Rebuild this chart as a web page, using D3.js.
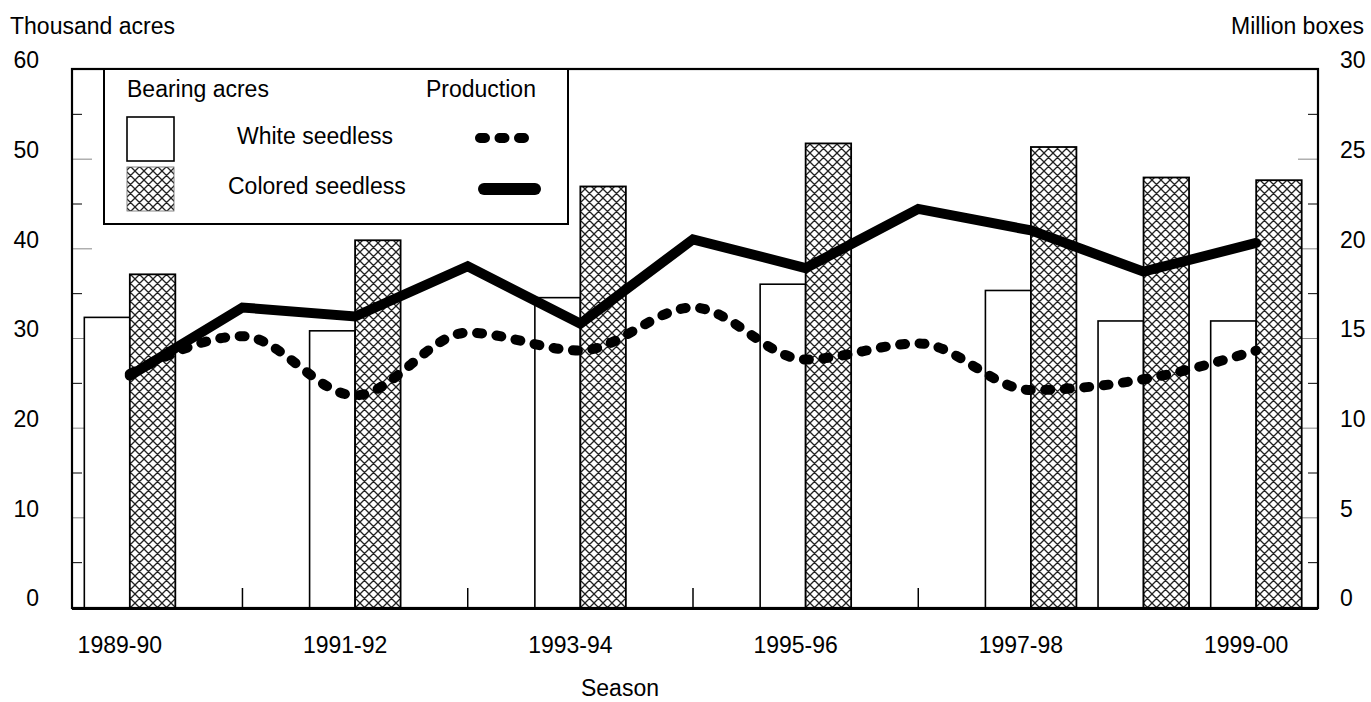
<!DOCTYPE html>
<html>
<head>
<meta charset="utf-8">
<script src="https://cdn.jsdelivr.net/npm/d3@7"></script>
<style>
  body { margin: 0; background: #fff; }
  text { font-family: "Liberation Sans", Arial, sans-serif; fill: #000; }
</style>
</head>
<body>
<div id="chart"></div>
<script>
// seasons on the x axis, labels shown every other season
const seasons = ["1989-90", "1990-91", "1991-92", "1992-93", "1993-94", "1994-95",
  "1995-96", "1996-97", "1997-98", "1998-99", "1999-00"];
const seasonLabels = ["1989-90", "1991-92", "1993-94", "1995-96", "1997-98", "1999-00"];

// bearing acres, thousand acres (no bars in some seasons)
const whiteAcres   = [32.3, null, 30.8, null, 34.5, null, 36.0, null, 35.3, 31.9, 31.9];
const coloredAcres = [37.1, null, 40.9, null, 46.9, null, 51.7, null, 51.3, 47.9, 47.6];

// production, million boxes
const whiteProd   = [13.0, 15.1, 11.8, 15.3, 14.3, 16.7, 13.8, 14.7, 12.1, 12.7, 14.3];
const coloredProd = [12.9, 16.7, 16.2, 19.0, 15.8, 20.5, 18.9, 22.2, 21.0, 18.7, 20.3];

const leftTicks = [0, 10, 20, 30, 40, 50, 60];
const rightTicks = [0, 5, 10, 15, 20, 25, 30];

const width = 1371, height = 702;
const plot = { left: 72, right: 1318, top: 69, bottom: 608 };
const fontSize = 23;

const svg = d3.select("#chart")
  .append("svg")
    .attr("width", width)
    .attr("height", height);

// crosshatch fill
const defs = svg.append("defs");
const pat = defs.append("pattern")
    .attr("id", "hatch")
    .attr("patternUnits", "userSpaceOnUse")
    .attr("width", 9)
    .attr("height", 9);
pat.append("rect").attr("width", 9).attr("height", 9).attr("fill", "#fff");
pat.append("path")
    .attr("d", "M0,0L9,9M9,0L0,9M-1,8L1,10M8,-1L10,1M-1,1L1,-1M8,10L10,8")
    .attr("stroke", "#222")
    .attr("stroke-width", 1.3);

// scales
const x = d3.scaleBand()
  .domain(seasons)
  .range([73.5, 1312.5]);
const cx = s => x(s) + x.bandwidth() / 2;

const yL = d3.scaleLinear().domain([0, 60]).range([607, plot.top]);
const yR = d3.scaleLinear().domain([0, 30]).range([607, plot.top]);

// inner ticks, left axis
const left = svg.append("g").attr("transform", `translate(${plot.left},0)`);
left.append("g")
  .call(d3.axisRight(yL).tickValues(d3.range(5, 60, 10)).tickSize(10).tickFormat(""))
  .call(g => g.select(".domain").remove())
  .selectAll("line").attr("stroke", "#000");
left.append("g")
  .call(d3.axisRight(yL).tickValues(leftTicks).tickSize(20).tickFormat(""))
  .call(g => g.select(".domain").remove())
  .selectAll("line").attr("stroke", "#888");
left.append("g")
  .call(d3.axisLeft(yL).tickValues(leftTicks).tickSize(0).tickPadding(33))
  .call(g => g.select(".domain").remove())
  .selectAll("text")
    .attr("dy", "-0.05em")
    .attr("font-size", fontSize)
    .attr("font-family", null);

// inner ticks, right axis
const right = svg.append("g").attr("transform", `translate(${plot.right},0)`);
right.append("g")
  .call(d3.axisLeft(yR).tickValues(d3.range(2.5, 30, 5)).tickSize(10).tickFormat(""))
  .call(g => g.select(".domain").remove())
  .selectAll("line").attr("stroke", "#000");
right.append("g")
  .call(d3.axisLeft(yR).tickValues(rightTicks).tickSize(20).tickFormat(""))
  .call(g => g.select(".domain").remove())
  .selectAll("line").attr("stroke", "#888");
right.append("g")
  .call(d3.axisRight(yR).tickValues(rightTicks).tickSize(0).tickPadding(22))
  .call(g => g.select(".domain").remove())
  .selectAll("text")
    .attr("dy", "-0.05em")
    .attr("font-size", fontSize)
    .attr("font-family", null);

// season ticks pointing up from the bottom
svg.append("g")
  .attr("transform", `translate(0,${plot.bottom})`)
  .call(d3.axisTop(x).tickSize(20).tickFormat(""))
  .call(g => g.select(".domain").remove())
  .selectAll("line").attr("stroke", "#000").attr("stroke-width", 1.5);

svg.append("g")
  .attr("transform", `translate(-10,${plot.bottom})`)
  .call(d3.axisBottom(x).tickValues(seasonLabels).tickSize(0).tickPadding(29))
  .call(g => g.select(".domain").remove())
  .selectAll("text")
    .attr("font-size", fontSize)
    .attr("font-family", null);

// bars
const barW = 45.5;
const acres = seasons.map((s, i) => ({ s, w: whiteAcres[i], c: coloredAcres[i] }))
  .filter(d => d.w != null);

svg.selectAll()
  .data(acres)
  .enter()
  .append("rect")
    .attr("x", d => cx(d.s) - barW)
    .attr("y", d => yL(d.w))
    .attr("width", barW)
    .attr("height", d => yL(0) - yL(d.w) + 1)
    .attr("fill", "#fff")
    .attr("stroke", "#000")
    .attr("stroke-width", 1.6);

svg.selectAll()
  .data(acres)
  .enter()
  .append("rect")
    .attr("x", d => cx(d.s))
    .attr("y", d => yL(d.c))
    .attr("width", barW)
    .attr("height", d => yL(0) - yL(d.c) + 1)
    .attr("fill", "url(#hatch)")
    .attr("stroke", "#000")
    .attr("stroke-width", 1.8);

// production lines
const whiteLine = d3.line()
  .x((d, i) => cx(seasons[i]))
  .y(d => yR(d))
  .curve(d3.curveMonotoneX);
const coloredLine = d3.line()
  .x((d, i) => cx(seasons[i]))
  .y(d => yR(d));

svg.append("path")
  .attr("d", whiteLine(whiteProd))
  .attr("fill", "none")
  .attr("stroke", "#000")
  .attr("stroke-width", 10)
  .attr("stroke-linecap", "round")
  .attr("stroke-dasharray", "5,14.5");

svg.append("path")
  .attr("d", coloredLine(coloredProd))
  .attr("fill", "none")
  .attr("stroke", "#000")
  .attr("stroke-width", 10)
  .attr("stroke-linejoin", "miter")
  .attr("stroke-linecap", "round");

// frame
svg.append("rect")
  .attr("x", plot.left)
  .attr("y", plot.top)
  .attr("width", plot.right - plot.left)
  .attr("height", plot.bottom - plot.top)
  .attr("fill", "none")
  .attr("stroke", "#000")
  .attr("stroke-width", 2.2);
svg.append("line")
  .attr("x1", plot.left).attr("x2", plot.right)
  .attr("y1", plot.bottom + 1).attr("y2", plot.bottom + 1)
  .attr("stroke", "#000").attr("stroke-width", 2);

// legend
const lg = svg.append("g");
lg.append("rect")
  .attr("x", 104).attr("y", plot.top)
  .attr("width", 464).attr("height", 155)
  .attr("fill", "#fff").attr("stroke", "#000").attr("stroke-width", 2);
lg.append("text").attr("x", 127).attr("y", 89).attr("dominant-baseline", "central")
  .attr("font-size", fontSize).text("Bearing acres");
lg.append("text").attr("x", 426).attr("y", 89).attr("dominant-baseline", "central")
  .attr("font-size", fontSize).text("Production");
lg.append("rect").attr("x", 127).attr("y", 117).attr("width", 47).attr("height", 44)
  .attr("fill", "#fff").attr("stroke", "#000").attr("stroke-width", 1.6);
lg.append("rect").attr("x", 127).attr("y", 167).attr("width", 47).attr("height", 44)
  .attr("fill", "url(#hatch)").attr("stroke", "#666").attr("stroke-width", 0.8);
lg.append("text").attr("x", 237).attr("y", 136).attr("dominant-baseline", "central")
  .attr("font-size", fontSize).text("White seedless");
lg.append("text").attr("x", 228).attr("y", 186).attr("dominant-baseline", "central")
  .attr("font-size", fontSize).text("Colored seedless");
lg.append("line").attr("x1", 480).attr("x2", 524).attr("y1", 138).attr("y2", 138)
  .attr("stroke", "#000").attr("stroke-width", 10).attr("stroke-linecap", "round")
  .attr("stroke-dasharray", "5,14.5");
lg.append("line").attr("x1", 484).attr("x2", 535).attr("y1", 189).attr("y2", 189)
  .attr("stroke", "#000").attr("stroke-width", 12).attr("stroke-linecap", "round");

// axis titles
svg.append("text").attr("x", 10).attr("y", 26).attr("dominant-baseline", "central")
  .attr("font-size", fontSize).text("Thousand acres");
svg.append("text").attr("x", 1364).attr("y", 26).attr("dominant-baseline", "central")
  .attr("text-anchor", "end").attr("font-size", fontSize).text("Million boxes");
svg.append("text").attr("x", 620).attr("y", 688).attr("dominant-baseline", "central")
  .attr("text-anchor", "middle").attr("font-size", fontSize).text("Season");
</script>
</body>
</html>
